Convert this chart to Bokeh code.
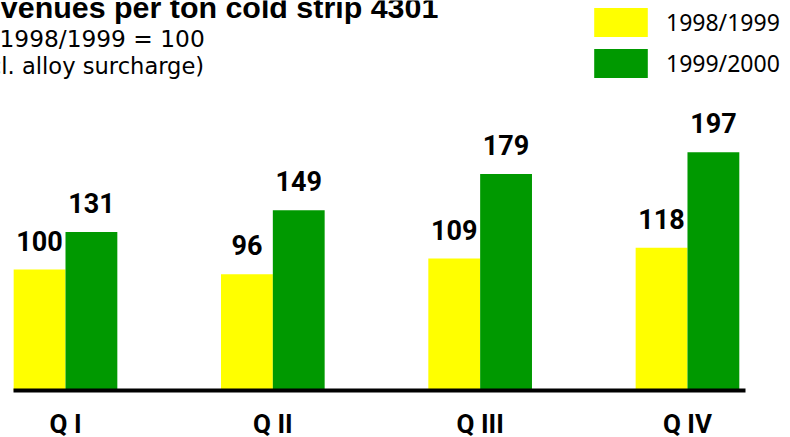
from bokeh.plotting import figure
from bokeh.models import (Range1d, FixedTicker, Label, Legend, LegendItem,
                          ColumnDataSource)
from bokeh.transform import dodge
from bokeh.core.properties import value
from bokeh.embed import file_html
from bokeh.resources import INLINE

# Revenue index per quarter (Q I 1998/1999 = 100)
quarters = ["Q I", "Q II", "Q III", "Q IV"]
index_1998_1999 = [100, 96, 109, 118]
index_1999_2000 = [131, 149, 179, 197]
series_names = ["1998/1999", "1999/2000"]

title_text = "Revenues per ton cold strip 4301"
subtitle_1 = "1998/1999 = 100"
subtitle_2 = "(incl. alloy surcharge)"

YELLOW = "#ffff00"
GREEN = "#009900"

W, H = 790, 437

src = ColumnDataSource(dict(
    pos=list(range(len(quarters))),
    a=index_1998_1999,
    b=index_1999_2000,
    la=[str(v) for v in index_1998_1999],
    lb=[str(v) for v in index_1999_2000],
))

p = figure(width=W, height=H, output_backend="svg", toolbar_location=None,
           x_range=Range1d(-0.3135, 3.4969), y_range=Range1d(-38.84, 322.31),
           min_border=0, y_axis_location=None, outline_line_color=None)
p.grid.visible = False

bw = 0.25
r1 = p.vbar(x=dodge("pos", -bw / 2), top="a", width=bw, source=src,
            fill_color=YELLOW, line_color=None)
r2 = p.vbar(x=dodge("pos", bw / 2), top="b", width=bw, source=src,
            fill_color=GREEN, line_color=None)

val_style = dict(text_align="center", text_baseline="alphabetic", y_offset=-29,
                 text_font=value("Roboto"), text_font_style="bold",
                 text_font_size="27px", text_color="black")
p.text(x=dodge("pos", -bw / 2), y="a", text="la", source=src, **val_style)
p.text(x=dodge("pos", bw / 2), y="b", text="lb", source=src, **val_style)

# Category axis drawn on the zero line, spanning the bar groups only
ax = p.xaxis[0]
ax.fixed_location = 0
ax.bounds = (-0.2523, 3.2783)
ax.ticker = FixedTicker(ticks=list(range(len(quarters))))
ax.major_label_overrides = {i: q for i, q in enumerate(quarters)}
ax.axis_line_width = 4
ax.axis_line_color = "black"
ax.major_tick_line_color = None
ax.minor_tick_line_color = None
ax.major_tick_out = 0
ax.major_tick_in = 0
ax.major_label_standoff = 18
ax.major_label_text_font = "Roboto"
ax.major_label_text_font_style = "bold"
ax.major_label_text_font_size = "26px"
ax.major_label_text_color = "black"

legend = Legend(
    items=[LegendItem(label=series_names[0], renderers=[r1]),
           LegendItem(label=series_names[1], renderers=[r2])],
    location=(587, H - 80.6), orientation="vertical",
    glyph_width=67, glyph_height=36, spacing=5, padding=0, margin=0,
    label_standoff=12, label_text_font="Noto Sans",
    label_text_font_size="23px", label_text_color="black",
    border_line_color=None, background_fill_alpha=0,
)
p.add_layout(legend)


def heading(text, x, baseline, font, size, bold=False):
    # screen y is measured up from the bottom of the canvas
    shift = 0.34 * size
    p.add_layout(Label(x=x, y=H - baseline + shift, x_units="screen",
                       y_units="screen", text=text, text_font=font,
                       text_font_style="bold" if bold else "normal",
                       text_font_size=f"{size}px", text_baseline="alphabetic",
                       text_color="black"))


heading(title_text, -38.5, 16.5, "Liberation Sans", 30.4, bold=True)
heading(subtitle_1, -1, 45.5, "DejaVu Sans", 23.3)
heading(subtitle_2, -41, 73.5, "DejaVu Sans", 22.6)

open("out.html", "w").write(file_html(p, INLINE))
